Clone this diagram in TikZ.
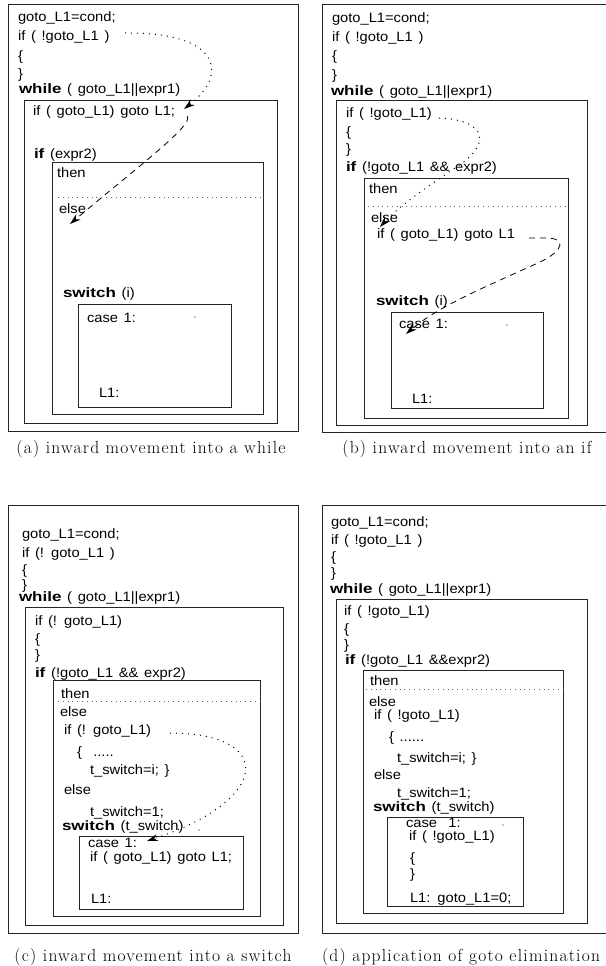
\documentclass[tikz,border=0pt]{standalone}
\usepackage{fontspec}
\setmainfont[FakeStretch=1.08,WordSpace=1.4,BoldFeatures={FakeStretch=1.25}]{Liberation Sans}
\newfontfamily\capfont[LetterSpace=7]{Latin Modern Roman}
\usetikzlibrary{arrows.meta}
\begin{document}
\begin{tikzpicture}[x=1pt,y=-1pt,
  every node/.style={inner sep=0pt, outer sep=0pt},
  code/.style={anchor=base west, font=\fontsize{13.6}{15}\selectfont},
  box/.style={draw=black!85, line width=0.9pt},
  captext/.style={anchor=base, font=\capfont\fontsize{17.5}{20}\selectfont},
  divider/.style={dash pattern=on 0.8pt off 4pt, line width=0.8pt, black!60},
  flowdot/.style={dash pattern=on 1pt off 5pt, line width=1pt, -{Stealth[length=11pt,width=7pt]}},
  flowdash/.style={dash pattern=on 6pt off 5pt, line width=0.8pt, -{Stealth[length=11pt,width=7pt]}},
  stray/.style={fill=black, draw=none}
]
\useasboundingbox (0,0) rectangle (605,966);

% ---------------- panel (a) ----------------
\draw[box] (8,4) rectangle (298,431);
\draw[box] (24,100) rectangle (277,423);
\draw[box] (52,162) rectangle (263,414);
\draw[divider] (58,197) -- (263,197);
\draw[box] (78,304) rectangle (231,407);
\node[code] (a1) at (18,22) {goto\_L1=cond;};
\node[code] (a2) at (18,41) {if ( !goto\_L1 )};
\node[code] (a3) at (18,61) {\{};
\node[code] (a4) at (18,78) {\}};
\node[code] (a5) at (19,93) {\textbf{while} ( goto\_L1||expr1)};
\node[code] (a6) at (33,115) {if ( goto\_L1) goto L1;};
\node[code] (a7) at (34,158) {\textbf{if} (expr2)};
\node[code] (a8) at (57,177) {then};
\node[code] (a9) at (59,213) {else};
\node[code] (a10) at (63,297) {\textbf{switch} (i)};
\node[code] (a11) at (87,322) {case 1:};
\node[code] (a12) at (99,397) {L1:};
\fill[stray] (195,317) circle (0.7);
\coordinate (aS1) at (125,33);
\coordinate (aT1) at (184,109);
\coordinate (aS2) at (187,116);
\coordinate (aT2) at (70,224);
\draw[flowdot] (aS1) .. controls (222,32) and (228,75) .. (aT1);
\draw[flowdash] (aS2) .. controls (195,124) and (140,165) .. (aT2);
\node[captext] (capa) at (151,453) {(a) inward movement into a while};

% ---------------- panel (b) ----------------
\draw[box] (322,4) rectangle (607,432);
\draw[box] (336,100) rectangle (587,425);
\draw[box] (364,178) rectangle (568,418);
\draw[divider] (368,206) -- (568,206);
\draw[box] (391,312) rectangle (543,408);
\node[code] (b1) at (332,23) {goto\_L1=cond;};
\node[code] (b2) at (332,42) {if ( !goto\_L1 )};
\node[code] (b3) at (332,61) {\{};
\node[code] (b4) at (332,79) {\}};
\node[code] (b5) at (331,95) {\textbf{while} ( goto\_L1||expr1)};
\node[code] (b6) at (346,117) {if ( !goto\_L1)};
\node[code] (b7) at (346,136) {\{};
\node[code] (b8) at (346,153) {\}};
\node[code] (b9) at (346,171) {\textbf{if} (!goto\_L1 \&\& expr2)};
\node[code] (b10) at (369,193) {then};
\node[code] (b11) at (371,222) {else};
\node[code] (b12) at (377,238) {if ( goto\_L1) goto L1};
\node[code] (b13) at (376,305) {\textbf{switch} (i)};
\node[code] (b14) at (399,328) {case 1:};
\node[code] (b15) at (412,403) {L1:};
\fill[stray] (507,325) circle (0.7);
\coordinate (bS1) at (439,118);
\coordinate (bT1) at (380,227);
\coordinate (bS2) at (529,238);
\coordinate (bT2) at (406,334);
\draw[flowdot] (bS1) .. controls (488,120) and (492,145) .. (455,168)
  .. controls (430,185) and (400,205) .. (bT1);
\draw[flowdash] (bS2) -- (546,238) .. controls (566,238) and (565,250) .. (540,262)
  .. controls (490,285) and (440,305) .. (bT2);
\node[captext] (capb) at (467,453) {(b) inward movement into an if};

% ---------------- panel (c) ----------------
\draw[box] (8,505) rectangle (298,933);
\draw[box] (25,607) rectangle (283,925);
\draw[box] (53,680) rectangle (260,916);
\draw[divider] (58,701) -- (260,701);
\draw[box] (79,836) rectangle (243,909);
\node[code] (c1) at (22,538) {goto\_L1=cond;};
\node[code] (c2) at (22,557) {if (! goto\_L1 )};
\node[code] (c3) at (22,574) {\{};
\node[code] (c4) at (22,589) {\}};
\node[code] (c5) at (19,601) {\textbf{while} ( goto\_L1||expr1)};
\node[code] (c6) at (35,625) {if (! goto\_L1)};
\node[code] (c7) at (35,643) {\{};
\node[code] (c8) at (35,659) {\}};
\node[code] (c9) at (35,677) {\textbf{if} (!goto\_L1 \&\& expr2)};
\node[code] (c10) at (61,698) {then};
\node[code] (c11) at (60,716) {else};
\node[code] (c12) at (64,734) {if (! goto\_L1)};
\node[code] (c13) at (77,756) {\{\ \ .....};
\node[code] (c14) at (90,774) {t\_switch=i; \}};
\node[code] (c15) at (64,794) {else};
\node[code] (c16) at (90,816) {t\_switch=1;};
\node[code] (c17) at (62,830) {\textbf{switch} (t\_switch)};
\node[code] (c18) at (88,847) {case 1:};
\node[code] (c19) at (90,861) {if ( goto\_L1) goto L1;};
\node[code] (c20) at (91,903) {L1:};
\fill[stray] (199,830) circle (0.7);
\coordinate (cS1) at (170,733);
\coordinate (cT1) at (147,841);
\draw[flowdot] (cS1) .. controls (275,733) and (272,800) .. (cT1);
\node[captext] (capc) at (153,961) {(c) inward movement into a switch};

% ---------------- panel (d) ----------------
\draw[box] (322,505) rectangle (607,933);
\draw[box] (336,599) rectangle (587,923);
\draw[box] (363,670) rectangle (563,913);
\draw[divider] (366,689) -- (563,689);
\draw[box] (387,817) rectangle (523,906);
\node[code] (d1) at (331,526) {goto\_L1=cond;};
\node[code] (d2) at (331,544) {if ( !goto\_L1 )};
\node[code] (d3) at (331,561) {\{};
\node[code] (d4) at (331,577) {\}};
\node[code] (d5) at (330,593) {\textbf{while} ( goto\_L1||expr1)};
\node[code] (d6) at (344,615) {if ( !goto\_L1)};
\node[code] (d7) at (344,633) {\{};
\node[code] (d8) at (344,649) {\}};
\node[code] (d9) at (345,664) {\textbf{if} (!goto\_L1 \&\&expr2)};
\node[code] (d10) at (370,685) {then};
\node[code] (d11) at (369,706) {else};
\node[code] (d12) at (374,719) {if ( !goto\_L1)};
\node[code] (d13) at (389,741) {\{ ......};
\node[code] (d14) at (397,762) {t\_switch=i; \}};
\node[code] (d15) at (374,779) {else};
\node[code] (d16) at (397,797) {t\_switch=1;};
\node[code] (d17) at (373,811) {\textbf{switch} (t\_switch)};
\node[code] (d18) at (406,827) {case\ \ 1:};
\node[code] (d19) at (409,840) {if ( !goto\_L1)};
\node[code] (d20) at (410,862) {\{};
\node[code] (d21) at (410,878) {\}};
\node[code] (d22) at (410,902) {L1: goto\_L1=0;};
\fill[stray] (503,825) circle (0.7);
\node[captext] (capd) at (461,961) {(d) application of goto elimination};
\end{tikzpicture}
\end{document}
